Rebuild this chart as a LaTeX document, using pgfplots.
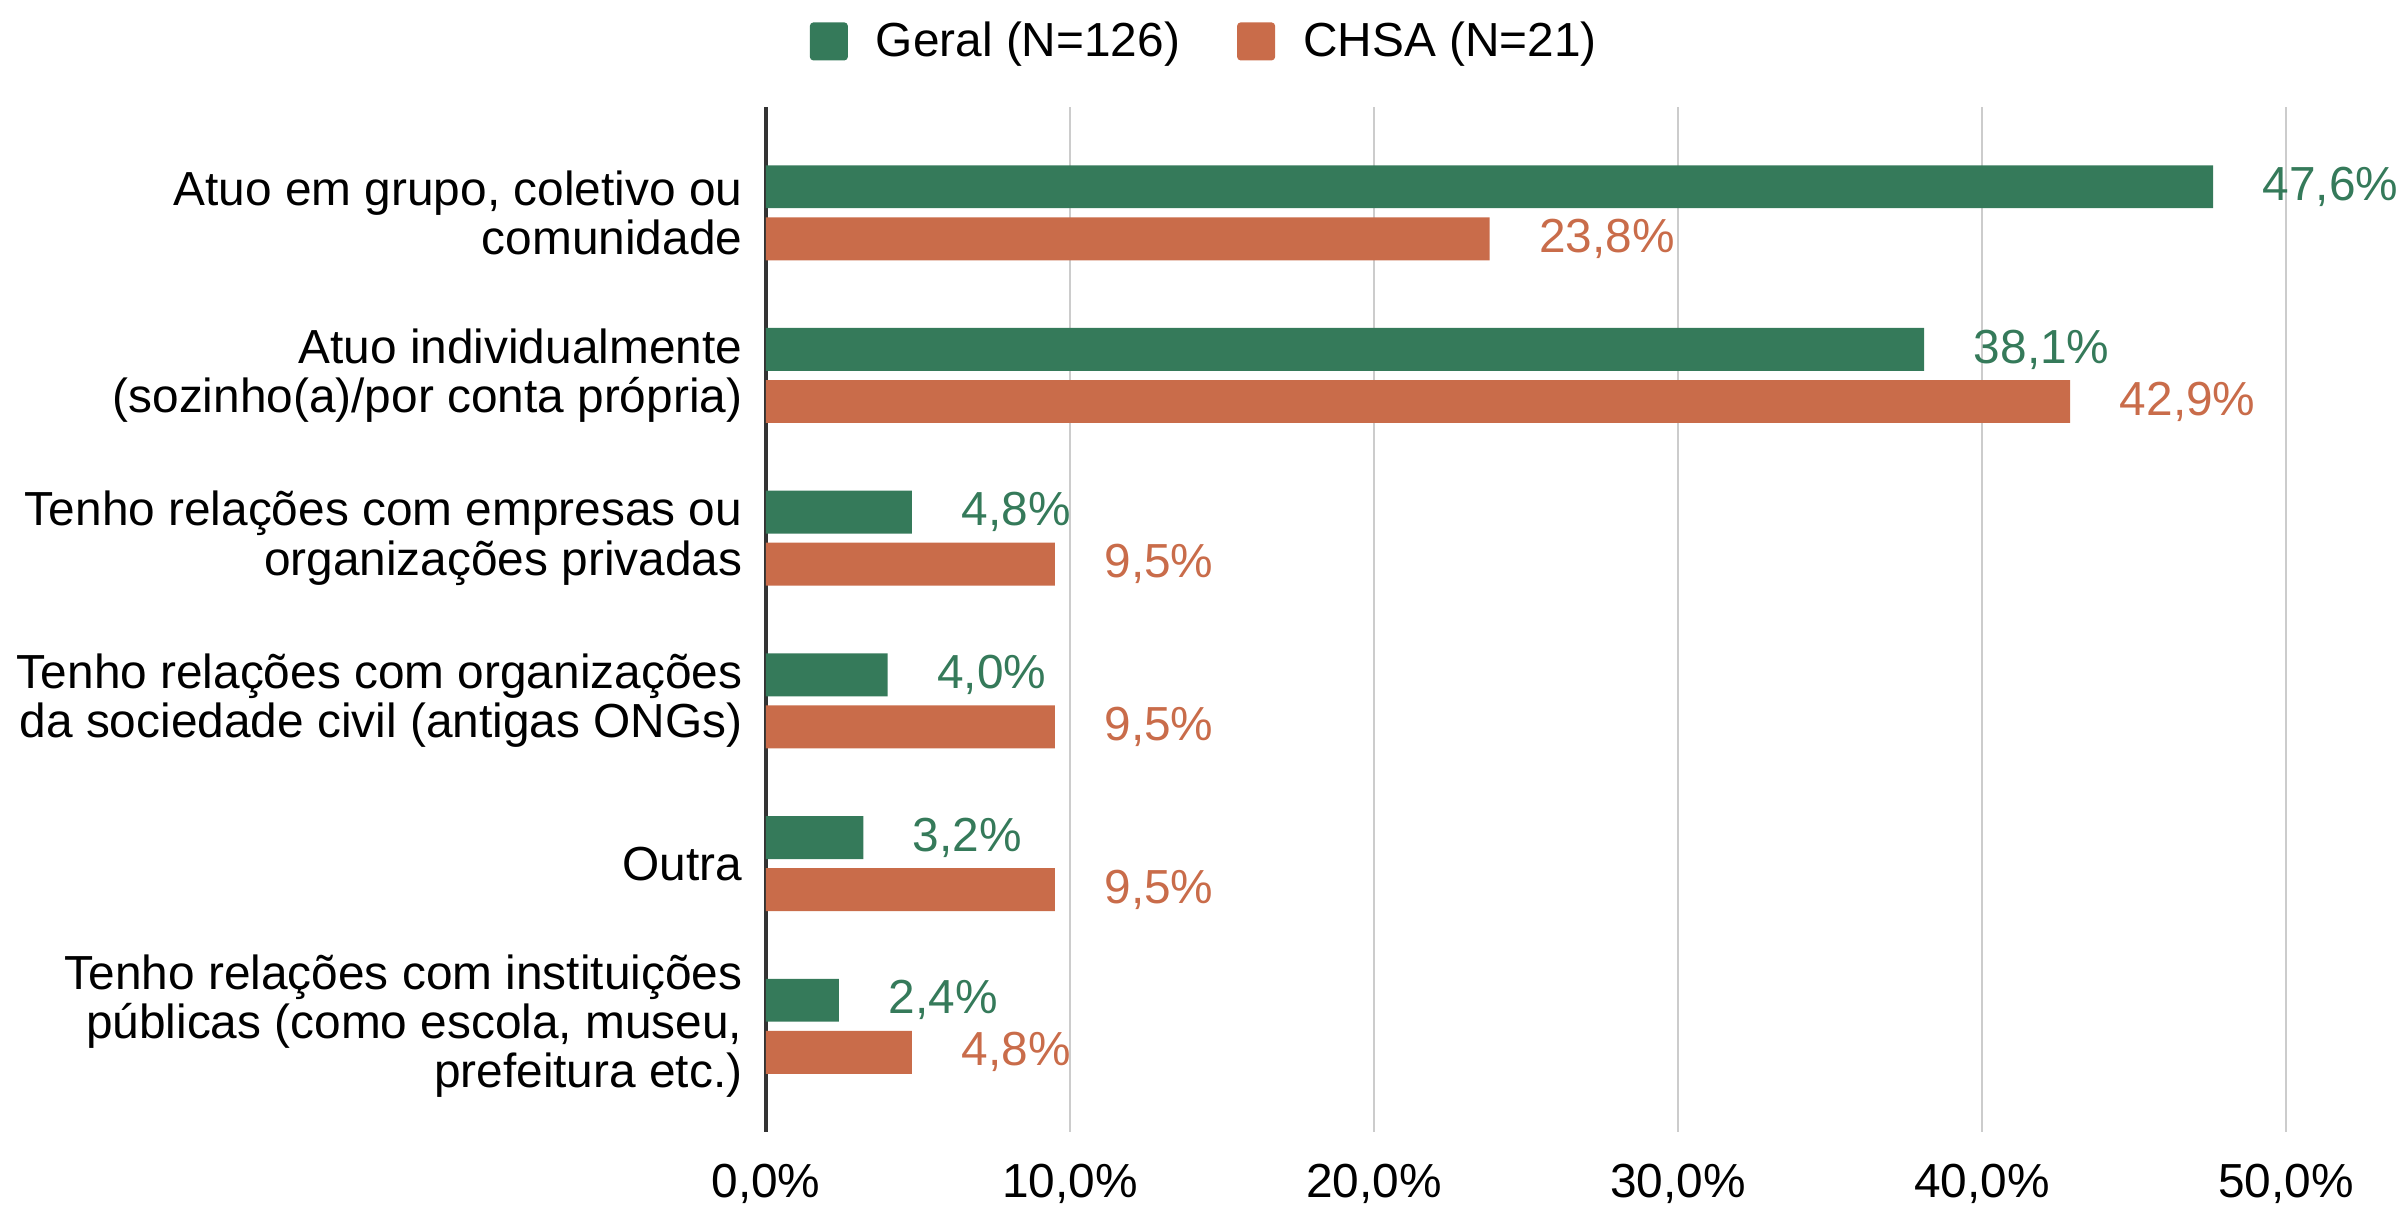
\documentclass[border=0pt]{standalone}
\usepackage{pgfplots}
\pgfplotsset{compat=1.18}
\usepackage{fontspec}
\setmainfont{Liberation Sans}

\definecolor{geral}{HTML}{357A5A}
\definecolor{chsa}{HTML}{C96C4A}
\definecolor{gridgray}{HTML}{CCCCCC}

\begin{document}
\begin{tikzpicture}
\begin{axis}[
    scale only axis,
    width=15.2cm, height=10.25cm,
    xmin=0, xmax=50,
    ymin=-0.65, ymax=5.65,
    y dir=reverse,
    clip=false,
    font=\fontsize{13.6}{14}\selectfont,
    /pgf/number format/assume math mode=true,
    axis x line*=bottom,
    x axis line style={draw=none},
    axis y line*=left,
    y axis line style={draw=black!80, line width=0.9pt},
    xmajorgrids,
    major grid style={gridgray, line width=0.6pt},
    major tick length=0pt,
    xtick={0,10,20,30,40,50},
    xticklabel={\pgfmathprintnumber[fixed,fixed zerofill,precision=1,use comma]{\tick}\%},
    xticklabel style={anchor=north, inner sep=0pt, yshift=-0.31cm},
    ytick={0,1,2,3,4,5},
    yticklabels={
        {Atuo em grupo, coletivo ou\\comunidade},
        {Atuo individualmente\\(sozinho(a)/por conta própria)},
        {Tenho relações com empresas ou\\organizações privadas},
        {Tenho relações com organizações\\da sociedade civil (antigas ONGs)},
        {Outra},
        {Tenho relações com instituições\\públicas (como escola, museu,\\prefeitura etc.)}
    },
    yticklabel style={align=right, anchor=east, inner sep=0pt, xshift=-0.23cm},
    legend columns=2,
    legend style={
        at={(axis description cs:0.29,1.064)}, anchor=center,
        draw=none, fill=none,
        font=\fontsize{13.6}{14}\selectfont,
        /tikz/every odd column/.append style={column sep=0.21cm},
        /tikz/every even column/.append style={column sep=0.5cm},
    },
    point meta=x,
    nodes near coords={\pgfmathprintnumber[fixed,fixed zerofill,precision=1,use comma]{\pgfplotspointmeta}\%},
    every node near coord/.append style={anchor=west, inner sep=0pt, xshift=0.49cm,
        font=\fontsize{13.6}{14}\selectfont},
]
% Geral (N=126)
\addplot[xbar, bar width=0.264, bar shift=0pt, fill=geral, draw=none,
    nodes near coords style={text=geral},
    legend image code/.code={\fill[geral, rounded corners=1pt] (0cm,-0.19cm) rectangle (0.38cm,0.19cm);}]
    coordinates {(47.6,-0.16) (38.1,0.84) (4.8,1.84) (4.0,2.84) (3.2,3.84) (2.4,4.84)};
\addlegendentry{Geral (N=126)}
% CHSA (N=21)
\addplot[xbar, bar width=0.264, bar shift=0pt, fill=chsa, draw=none,
    nodes near coords style={text=chsa},
    legend image code/.code={\fill[chsa, rounded corners=1pt] (0cm,-0.19cm) rectangle (0.38cm,0.19cm);}]
    coordinates {(23.8,0.16) (42.9,1.16) (9.5,2.16) (9.5,3.16) (9.5,4.16) (4.8,5.16)};
\addlegendentry{CHSA (N=21)}
\end{axis}
\pgfresetboundingbox
\path[use as bounding box] (-7.66,-0.74) rectangle (16.33,11.32);
\end{tikzpicture}
\end{document}
